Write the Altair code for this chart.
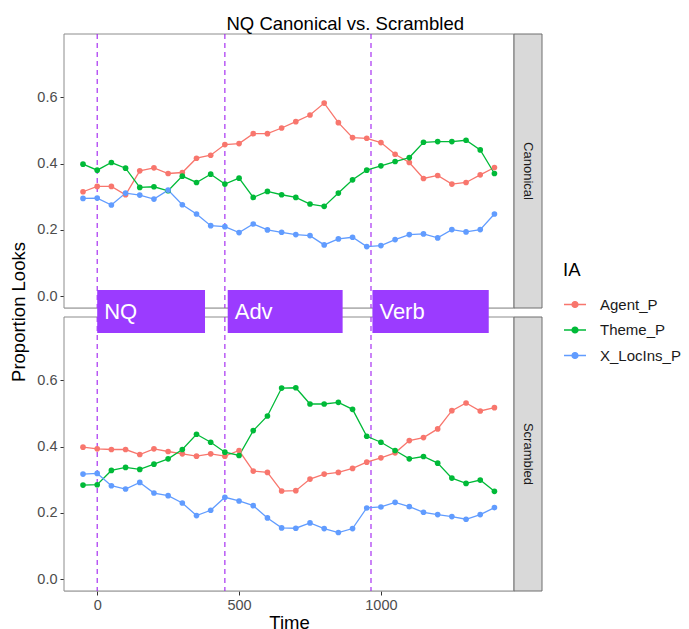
import altair as alt
import pandas as pd

FONT = "Liberation Sans"

time_ms = [-50, 0, 50, 100, 150, 200, 250, 300, 350, 400, 450, 500, 550, 600, 650,
           700, 750, 800, 850, 900, 950, 1000, 1050, 1100, 1150, 1200, 1250, 1300, 1350, 1400]

canon_agent = [0.315, 0.331, 0.331, 0.306, 0.378, 0.387, 0.370, 0.373, 0.416, 0.425,
               0.457, 0.460, 0.490, 0.490, 0.507, 0.526, 0.546, 0.582, 0.523, 0.478,
               0.476, 0.463, 0.428, 0.403, 0.355, 0.364, 0.338, 0.343, 0.366, 0.388]
canon_theme = [0.398, 0.380, 0.403, 0.386, 0.328, 0.330, 0.318, 0.362, 0.343, 0.368,
               0.338, 0.356, 0.298, 0.316, 0.306, 0.298, 0.278, 0.271, 0.311, 0.351,
               0.380, 0.393, 0.406, 0.418, 0.464, 0.466, 0.466, 0.470, 0.441, 0.370]
canon_locins = [0.295, 0.296, 0.275, 0.311, 0.305, 0.293, 0.320, 0.276, 0.248, 0.213,
                0.210, 0.192, 0.218, 0.200, 0.193, 0.186, 0.183, 0.155, 0.173, 0.178,
                0.150, 0.153, 0.171, 0.186, 0.188, 0.176, 0.201, 0.194, 0.201, 0.248]

scr_agent = [0.398, 0.393, 0.391, 0.391, 0.376, 0.393, 0.385, 0.378, 0.371, 0.378,
             0.371, 0.388, 0.326, 0.322, 0.266, 0.267, 0.302, 0.317, 0.322, 0.334,
             0.353, 0.366, 0.381, 0.418, 0.427, 0.453, 0.508, 0.531, 0.507, 0.517]
scr_theme = [0.284, 0.285, 0.328, 0.337, 0.331, 0.347, 0.363, 0.391, 0.437, 0.413,
             0.383, 0.373, 0.448, 0.492, 0.576, 0.577, 0.528, 0.528, 0.533, 0.512,
             0.431, 0.413, 0.388, 0.363, 0.370, 0.350, 0.305, 0.289, 0.299, 0.265]
scr_locins = [0.317, 0.319, 0.282, 0.272, 0.292, 0.260, 0.252, 0.230, 0.192, 0.208,
              0.247, 0.236, 0.222, 0.185, 0.155, 0.154, 0.170, 0.153, 0.141, 0.153,
              0.215, 0.218, 0.232, 0.219, 0.202, 0.195, 0.189, 0.181, 0.195, 0.216]

ia_names = ["Agent_P", "Theme_P", "X_LocIns_P"]
ia_colors = ["#F8766D", "#00BA38", "#619CFF"]
conditions = ["Canonical", "Scrambled"]

onsets = [0, 450, 965]
region_labels = ["NQ", "Adv", "Verb"]
region_start = [0, 460, 970]
region_end = [380, 865, 1380]

rows = []
for cond, series in [("Canonical", [canon_agent, canon_theme, canon_locins]),
                     ("Scrambled", [scr_agent, scr_theme, scr_locins])]:
    for name, vals in zip(ia_names, series):
        for t, v in zip(time_ms, vals):
            rows.append({"Condition": cond, "IA": name, "Time": t, "Prop": v})
df = pd.DataFrame(rows)
onset_df = pd.DataFrame({"Time": onsets})
region_df = pd.DataFrame({"label": region_labels, "Time": region_start, "end": region_end})
one = pd.DataFrame({"a": [0]})

W, H = 450, 274
PURPLE_LINE = "#A020F0"
PURPLE_BOX = "#9B3BFF"
xs = alt.Scale(domain=[-117, 1469], nice=False, zero=False)
ys = alt.Scale(domain=[-0.035, 0.79], nice=False, zero=False)

# custom legend glyph: horizontal line with a dot (dot drawn as concentric rings)
GLYPH = ("M-1,0L1,0 "
         "M0.27,0A0.27,0.27 0 1,1 -0.27,0A0.27,0.27 0 1,1 0.27,0Z "
         "M0.18,0A0.18,0.18 0 1,1 -0.18,0A0.18,0.18 0 1,1 0.18,0Z "
         "M0.09,0A0.09,0.09 0 1,1 -0.09,0A0.09,0.09 0 1,1 0.09,0Z")


def panel(cond, bottom):
    d = df[df.Condition == cond]
    if bottom:
        xaxis = alt.Axis(values=[0, 500, 1000], format="d", title="Time", domain=False,
                         grid=False, tickColor="#333333", tickSize=4, labelPadding=3,
                         labelFontSize=14.5, labelColor="#4D4D4D", labelFont=FONT,
                         titleFontSize=18.5, titleFont=FONT, titleFontWeight="normal",
                         titleColor="black", titlePadding=2)
    else:
        xaxis = None
    yaxis = alt.Axis(values=[0, 0.2, 0.4, 0.6], format=".1f", title=None, domain=False,
                     grid=False, tickColor="#333333", tickSize=4, labelPadding=3,
                     labelFontSize=14.5, labelColor="#4D4D4D", labelFont=FONT)
    x = alt.X("Time:Q", scale=xs, axis=xaxis)
    y = alt.Y("Prop:Q", scale=ys, axis=yaxis)

    if bottom:
        color_legend = None
    else:
        color_legend = alt.Legend(
            title="IA", orient="none", legendX=499, legendY=227,
            titleFontSize=18.5, titleFont=FONT, titleFontWeight="normal", titleColor="black",
            titlePadding=13, labelFontSize=15, labelFont=FONT, labelColor="#1A1A1A",
            symbolType=GLYPH, symbolSize=484, symbolStrokeWidth=1.3, rowPadding=5.5,
            labelOffset=13)
    color_line = alt.Color("IA:N", scale=alt.Scale(domain=ia_names, range=ia_colors),
                           legend=color_legend)
    color_pt = alt.Color("IA:N", scale=alt.Scale(domain=ia_names, range=ia_colors),
                         legend=None)

    border = alt.Chart(one).mark_rect(fill="white", stroke="#8C8C8C", strokeWidth=1).encode(
        x=alt.value(0), x2=alt.value(W), y=alt.value(0), y2=alt.value(H))
    rules = alt.Chart(onset_df).mark_rule(color=PURPLE_LINE, strokeDash=[5, 4],
                                          strokeWidth=1.1).encode(x=alt.X("Time:Q", scale=xs, axis=xaxis))
    lines = alt.Chart(d).mark_line(strokeWidth=1.3).encode(x=x, y=y, color=color_line,
                                                           detail="IA:N")
    pts = alt.Chart(d).mark_circle(size=32, opacity=1).encode(x=x, y=y, color=color_pt)
    strip = alt.Chart(one).mark_rect(fill="#D9D9D9", stroke="#6E6E6E", strokeWidth=1).encode(
        x=alt.value(W), x2=alt.value(W + 28), y=alt.value(0), y2=alt.value(H))
    strip_text = alt.Chart(pd.DataFrame({"label": [cond]})).mark_text(
        angle=90, fontSize=13, font=FONT, color="#1A1A1A", baseline="middle", align="center"
    ).encode(x=alt.value(W + 14), y=alt.value(H / 2), text="label:N")

    layers = [border, rules, lines, pts, strip, strip_text]
    if bottom:
        boxes = alt.Chart(region_df).mark_rect(color=PURPLE_BOX, opacity=1).encode(
            x=alt.X("Time:Q", scale=xs, axis=xaxis), x2="end:Q",
            y=alt.value(-27), y2=alt.value(16))
        box_text = alt.Chart(region_df).mark_text(
            color="white", fontSize=22, font=FONT, align="left", baseline="middle", dx=7
        ).encode(x=alt.X("Time:Q", scale=xs, axis=xaxis), y=alt.value(-5), text="label:N")
        layers += [boxes, box_text]
    else:
        ytitle = alt.Chart(one).mark_text(
            angle=270, fontSize=18.5, font=FONT, color="black", baseline="middle", align="center"
        ).encode(x=alt.value(-45), y=alt.value(H + 4), text=alt.value("Proportion Looks"))
        layers += [ytitle]
    return alt.layer(*layers).properties(width=W, height=H)


chart = alt.vconcat(
    panel("Canonical", False), panel("Scrambled", True),
    spacing=9, bounds="flush",
    title=alt.TitleParams("NQ Canonical vs. Scrambled", anchor="middle", fontSize=18.5,
                          font=FONT, fontWeight="normal", color="black", offset=-1),
).properties(
    padding={"left": 9, "top": 15, "right": 0, "bottom": 0},
).configure_view(stroke=None).configure(background="white")

chart.save("out.html", embed_options={"renderer": "svg", "actions": False})
